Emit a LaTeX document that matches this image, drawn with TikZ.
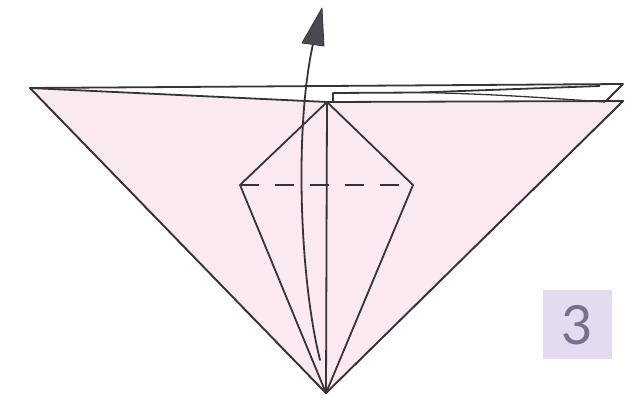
\documentclass[tikz,border=0pt]{standalone}
\usepackage{fontspec}
\setsansfont{Lato}
\definecolor{paperpink}{HTML}{FAE9F0}
\definecolor{foldline}{HTML}{353537}
\definecolor{arrowgray}{HTML}{4B4852}
\definecolor{stepbg}{HTML}{E4DBF0}
\definecolor{stepfg}{HTML}{7B6E90}
\begin{document}
\begin{tikzpicture}[x=1pt,y=-1pt,
  edge/.style={draw=foldline,line width=1.8pt,line join=round},
  valley/.style={draw=foldline,line width=1.6pt,dash pattern=on 19pt off 16pt},
  stepbox/.style={fill=stepbg,draw=none},
  steplabel/.style={text=stepfg,font=\sffamily\fontsize{54}{54}\selectfont}]
\useasboundingbox (0,0) rectangle (638,401);
% key points of the folded square
\coordinate (L)  at (30,88);    % left corner
\coordinate (TR) at (623,84);   % back layer right tip
\coordinate (TN) at (605,102);  % back layer notch
\coordinate (R)  at (623,101);  % front layer right tip
\coordinate (B)  at (326,393);  % bottom point
\coordinate (K)  at (327,102);  % kite top
\coordinate (KL) at (240,185);  % kite left
\coordinate (KR) at (413,185);  % kite right
\coordinate (FL) at (333,101);  % inner flap corner
% back (white) layer
\path[edge,fill=white] (L) -- (TR) -- (TN) -- (R) -- (B) -- cycle;
% front pink layer
\path[edge,fill=paperpink] (L) -- (K) -- (R) -- (B) -- cycle;
% inner flap peeking between layers
\draw[edge] (FL) -- (333,93) -- (420,92.5) -- (600,86);
\draw[edge,line width=1.3pt] (420,92.5) .. controls (500,94) and (560,99) .. (TN);
% kite
\draw[edge] (K) -- (KL) -- (B) -- (KR) -- cycle;
\draw[edge] (K) -- (B);
\draw[valley] (KL) -- (KR);
% lift arrow
\coordinate (AS) at (320,360);
\coordinate (AE) at (313,44);
\draw[edge,line cap=round] (AS) .. controls (300,280) and (294,130) .. (AE);
\fill[arrowgray,draw=foldline,line width=0.8pt,line join=round]
  (322,8) -- (302,43) -- (324,46) -- cycle;
% step number
\path[stepbox] (543,290) rectangle (612,359);
\node[steplabel] (num) at (577.5,325) {3};
\end{tikzpicture}
\end{document}
